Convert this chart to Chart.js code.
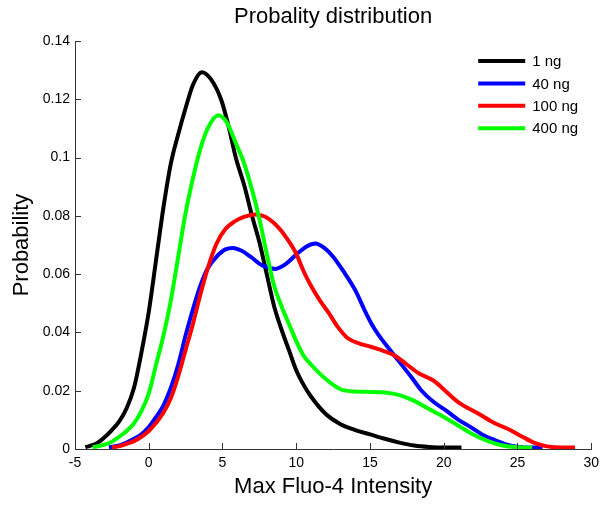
<!DOCTYPE html>
<html>
<head>
<meta charset="utf-8">
<script src="https://cdn.jsdelivr.net/npm/chart.js@4.4.0/dist/chart.umd.min.js"></script>
<style>
  body{margin:0;background:#fff;}
  canvas{display:block;}
</style>
</head>
<body>
<canvas id="myChart" width="605" height="505"></canvas>
<script>
const labels_series = ['1 ng', '40 ng', '100 ng', '400 ng'];
const colors_series = ['#000000', '#0000ff', '#ff0000', '#00ff00'];

// 1 ng (black)
const x_1ng = [-4.3, -3.5, -3, -2.5, -2, -1.5, -1, -0.5, 0, 0.5, 1, 1.5, 2, 2.5, 3, 3.6, 4.2, 4.9, 5.4, 5.9, 6.5, 7, 7.5, 8, 8.5, 9, 9.5, 10, 10.5, 11, 12, 13, 14, 15, 16, 17, 18, 19, 20, 21.2];
const y_1ng = [0.0006, 0.002, 0.004, 0.0065, 0.0095, 0.014, 0.021, 0.033, 0.047, 0.065, 0.083, 0.098, 0.108, 0.117, 0.125, 0.1293, 0.127, 0.12, 0.111, 0.1, 0.09, 0.08, 0.071, 0.06, 0.049, 0.041, 0.034, 0.027, 0.022, 0.018, 0.012, 0.0085, 0.0065, 0.005, 0.0035, 0.0022, 0.0012, 0.0007, 0.0005, 0.0005];

// 40 ng (blue)
const x_40ng = [-2.7, -2, -1.5, -1, -0.5, 0, 0.5, 1, 1.5, 2, 2.5, 3, 3.5, 4, 4.6, 5.2, 5.7, 6.3, 6.9, 7.7, 8.6, 9.3, 10, 10.7, 11.3, 11.9, 12.5, 13.2, 14, 14.6, 15.1, 15.6, 16.2, 16.9, 17.8, 18.5, 19.3, 20.1, 21, 21.8, 22.6, 23.5, 24.3, 25, 26, 26.7];
const y_40ng = [0.0006, 0.0012, 0.0022, 0.0035, 0.005, 0.0075, 0.011, 0.015, 0.021, 0.029, 0.039, 0.048, 0.056, 0.062, 0.066, 0.0685, 0.069, 0.068, 0.066, 0.063, 0.0618, 0.0635, 0.0667, 0.0695, 0.0705, 0.069, 0.066, 0.061, 0.0545, 0.048, 0.043, 0.039, 0.035, 0.0305, 0.0247, 0.02, 0.0162, 0.0134, 0.01, 0.0076, 0.005, 0.003, 0.0015, 0.0008, 0.0005, 0.0005];

// 100 ng (red)
const x_100ng = [-2.5, -2, -1.5, -1, -0.5, 0, 0.5, 1, 1.5, 2, 2.5, 3, 3.5, 4, 4.6, 5.2, 5.8, 6.5, 7.2, 7.9, 8.8, 9.4, 10, 10.5, 11, 11.6, 12.2, 12.8, 13.5, 14.3, 15.1, 16, 16.7, 17.5, 18.3, 19.3, 20.1, 21, 22.3, 23.4, 24.5, 25.3, 26.2, 27, 28, 28.9];
const y_100ng = [0.0006, 0.001, 0.0018, 0.0027, 0.0042, 0.0062, 0.009, 0.0125, 0.0175, 0.025, 0.034, 0.043, 0.053, 0.062, 0.0705, 0.0755, 0.078, 0.0797, 0.0805, 0.0797, 0.076, 0.072, 0.067, 0.061, 0.056, 0.051, 0.0467, 0.042, 0.038, 0.0362, 0.035, 0.0335, 0.032, 0.029, 0.026, 0.0235, 0.02, 0.016, 0.0123, 0.009, 0.0065, 0.0043, 0.002, 0.0009, 0.0005, 0.0005];

// 400 ng (green)
const x_400ng = [-3.8, -3, -2.5, -2, -1.5, -1, -0.5, 0, 0.5, 1, 1.5, 2, 2.5, 3, 3.5, 4, 4.7, 5.3, 5.9, 6.4, 7, 7.5, 8, 8.5, 9, 9.5, 10, 10.5, 11, 12, 13, 14, 15, 16, 17, 18, 19, 20, 21, 22, 23, 24, 25, 26];
const y_400ng = [0.0006, 0.0015, 0.0025, 0.0042, 0.0062, 0.0088, 0.013, 0.019, 0.029, 0.039, 0.051, 0.066, 0.081, 0.093, 0.103, 0.11, 0.1145, 0.112, 0.105, 0.099, 0.089, 0.079, 0.067, 0.056, 0.049, 0.043, 0.037, 0.032, 0.029, 0.024, 0.0205, 0.0197, 0.0196, 0.0194, 0.0185, 0.0165, 0.0137, 0.011, 0.008, 0.005, 0.0027, 0.0012, 0.0006, 0.0005];

const x_ticks = [-5, 0, 5, 10, 15, 20, 25, 30];
const y_ticks = [0, 0.02, 0.04, 0.06, 0.08, 0.1, 0.12, 0.14];

const font_family = "'Liberation Sans', Arial, Helvetica, sans-serif";
Chart.defaults.font.family = font_family;
Chart.defaults.color = '#000';

function points(xs, ys){
  return xs.map((x, i) => ({x: x, y: ys[i]}));
}

const series_x = [x_1ng, x_40ng, x_100ng, x_400ng];
const series_y = [y_1ng, y_40ng, y_100ng, y_400ng];

// last series is drawn on top (lower order = drawn later)
const datasets = labels_series.map((lab, i) => ({
  label: lab,
  data: points(series_x[i], series_y[i]),
  borderColor: colors_series[i],
  backgroundColor: colors_series[i],
  borderWidth: 4,
  pointRadius: 0,
  fill: false,
  cubicInterpolationMode: 'monotone',
  order: labels_series.length - i
}));

// title centred over the plot area
const titlePlugin = {
  id: 'plotTitle',
  afterDraw(chart){
    const ctx = chart.ctx, a = chart.chartArea;
    ctx.save();
    ctx.font = '22px ' + font_family;
    ctx.fillStyle = '#000';
    ctx.textAlign = 'center';
    ctx.textBaseline = 'middle';
    ctx.fillText('Probality distribution', (a.left + a.right) / 2, 17);
    ctx.restore();
  }
};

// small tick marks pointing into the plot
const innerTicks = {
  id: 'innerTicks',
  afterDraw(chart){
    const ctx = chart.ctx, a = chart.chartArea;
    const xs = chart.scales.x, ys = chart.scales.y;
    ctx.save();
    ctx.strokeStyle = '#333';
    ctx.lineWidth = 1;
    ctx.beginPath();
    x_ticks.forEach(v => {
      const px = Math.round(xs.getPixelForValue(v)) + 0.5;
      ctx.moveTo(px, a.bottom);
      ctx.lineTo(px, a.bottom - 6);
    });
    y_ticks.forEach(v => {
      const py = Math.round(ys.getPixelForValue(v)) + 0.5;
      ctx.moveTo(a.left, py);
      ctx.lineTo(a.left + 6, py);
    });
    ctx.stroke();
    ctx.restore();
  }
};

// legend in the upper right corner of the plot
const cornerLegend = {
  id: 'cornerLegend',
  afterDraw(chart){
    const ctx = chart.ctx, a = chart.chartArea;
    ctx.save();
    ctx.font = '15px ' + font_family;
    ctx.textBaseline = 'middle';
    ctx.textAlign = 'left';
    chart.data.datasets.forEach((ds, i) => {
      const y = a.top + 20 + i * 22.4;
      ctx.strokeStyle = ds.borderColor;
      ctx.lineWidth = 4;
      ctx.beginPath();
      ctx.moveTo(a.right - 113, y);
      ctx.lineTo(a.right - 66, y);
      ctx.stroke();
      ctx.fillStyle = '#000';
      ctx.fillText(ds.label, a.right - 59, y + 1);
    });
    ctx.restore();
  }
};

const config = {
  type: 'line',
  data: { datasets: datasets },
  options: {
    responsive: false,
    animation: false,
    layout: { padding: { top: 41, right: 11, left: 0, bottom: 0 } },
    plugins: {
      legend: { display: false },
      title: { display: false },
      tooltip: { enabled: false }
    },
    scales: {
      x: {
        type: 'linear',
        min: -5,
        max: 30,
        afterBuildTicks: s => { s.ticks = x_ticks.map(v => ({value: v})); },
        afterFit: s => { s.height = 56; },
        grid: { drawOnChartArea: false, drawTicks: false },
        border: { display: true, color: '#333', width: 1 },
        ticks: { font: { size: 14 }, color: '#000', padding: 6, maxRotation: 0 },
        title: { display: true, text: 'Max Fluo-4 Intensity', font: { size: 22 }, color: '#000', padding: { top: 0, bottom: 5 } }
      },
      y: {
        type: 'linear',
        min: 0,
        max: 0.14,
        afterBuildTicks: s => { s.ticks = y_ticks.map(v => ({value: v})); },
        afterFit: s => { s.width = 75; },
        grid: { drawOnChartArea: false, drawTicks: false },
        border: { display: true, color: '#333', width: 1 },
        ticks: { font: { size: 14 }, color: '#000', padding: 5, callback: v => String(+Number(v).toFixed(2)) },
        title: { display: true, text: 'Probability', font: { size: 22 }, color: '#000', padding: { top: 9, bottom: 0 } }
      }
    }
  },
  plugins: [titlePlugin, innerTicks, cornerLegend]
};

const myChart = new Chart(
  document.getElementById('myChart').getContext("2d"),
  config);
</script>
</body>
</html>
